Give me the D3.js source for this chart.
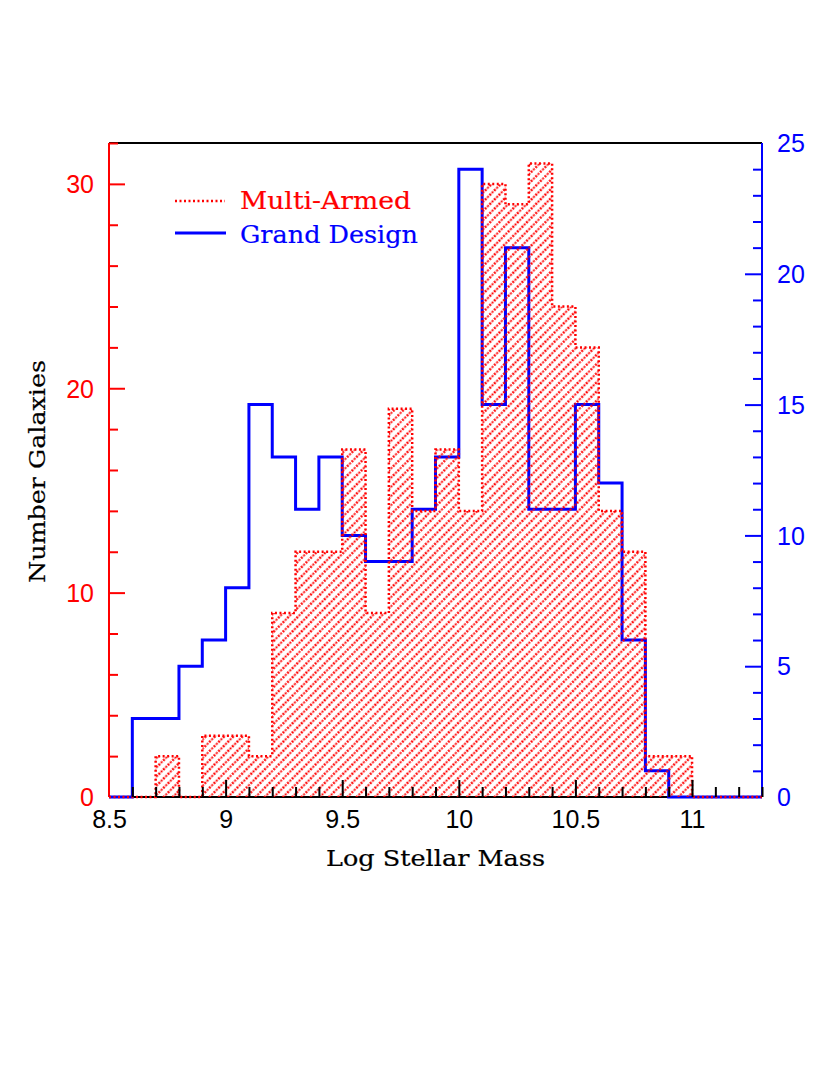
<!DOCTYPE html>
<html>
<head>
<meta charset="utf-8">
<script src="https://cdn.jsdelivr.net/npm/d3@7"></script>
<style>
  html, body { margin: 0; padding: 0; background: #fff; }
  svg { display: block; }
</style>
</head>
<body>
<svg id="chart" width="830" height="1075"></svg>
<script>
// ---- Data ----
const binEdges = [8.5, 8.6, 8.7, 8.8, 8.9, 9.0, 9.1, 9.2, 9.3, 9.4, 9.5, 9.6, 9.7, 9.8, 9.9,
                  10.0, 10.1, 10.2, 10.3, 10.4, 10.5, 10.6, 10.7, 10.8, 10.9, 11.0, 11.1, 11.2, 11.3];
const multiArmed = [0, 0, 2, 0, 3, 3, 2, 9, 12, 12, 17, 9, 19, 14, 17, 14, 30, 29, 31, 24, 22, 14, 12, 2, 2, 0, 0, 0];
const grandDesign = [0, 3, 3, 5, 6, 8, 15, 13, 11, 13, 10, 9, 9, 11, 13, 24, 15, 21, 11, 11, 15, 12, 6, 1, 0, 0, 0, 0];
const xMajorTicks = [8.5, 9, 9.5, 10, 10.5, 11];
const xTickLabels = ["8.5", "9", "9.5", "10", "10.5", "11"];
const leftMajorTicks = [0, 10, 20, 30];
const rightMajorTicks = [0, 5, 10, 15, 20, 25];
const seriesNames = ["Multi-Armed", "Grand Design"];
const xLabel = "Log Stellar Mass";
const yLabel = "Number Galaxies";

// ---- Layout ----
const L = 109, R = 762, T = 143, B = 797;
const RED = "#ff0000", BLUE = "#0000ff";
const serif = "'DejaVu Serif', 'Liberation Serif', serif";
const sans = "'Liberation Sans', Arial, sans-serif";

const x = d3.scaleLinear().domain([8.5, 11.3]).range([L, R]);
const yL = d3.scaleLinear().domain([0, 32]).range([B, T]);
const yR = d3.scaleLinear().domain([0, 25]).range([B, T]);

const svg = d3.select("#chart");
const defs = svg.append("defs");

const pat = defs.append("pattern")
  .attr("id", "hatch")
  .attr("patternUnits", "userSpaceOnUse")
  .attr("width", 6.5).attr("height", 6.5)
  .attr("patternTransform", "rotate(-45)");
pat.append("line")
  .attr("x1", 0).attr("y1", 3.25).attr("x2", 6.5).attr("y2", 3.25)
  .attr("stroke", RED).attr("stroke-width", 1.9)
  .attr("stroke-dasharray", "2.1,1.15");
pat.append("line")
  .attr("x1", 1.05).attr("y1", 2.2).attr("x2", 1.05).attr("y2", 4.3)
  .attr("stroke", RED).attr("stroke-width", 1.1);

defs.append("clipPath").attr("id", "plotclip")
  .append("rect").attr("x", L - 1).attr("y", T - 2).attr("width", R - L + 2).attr("height", B - T + 4);

function stepPoints(vals) {
  const pts = vals.map((v, i) => [binEdges[i], v]);
  pts.push([binEdges[binEdges.length - 1], vals[vals.length - 1]]);
  return pts;
}

// ---- Frame (drawn first, data over it) ----
svg.append("line").attr("x1", L).attr("x2", R).attr("y1", T).attr("y2", T)
  .attr("stroke", "#000").attr("stroke-width", 2);
svg.append("line").attr("x1", L).attr("x2", R).attr("y1", B).attr("y2", B)
  .attr("stroke", "#000").attr("stroke-width", 2);
svg.append("line").attr("x1", L).attr("x2", L).attr("y1", T).attr("y2", B)
  .attr("stroke", RED).attr("stroke-width", 2);
svg.append("line").attr("x1", R).attr("x2", R).attr("y1", T).attr("y2", B)
  .attr("stroke", BLUE).attr("stroke-width", 2);

const g = svg.append("g").attr("clip-path", "url(#plotclip)");

// Grand design (right axis)
const lineR = d3.line().x(d => x(d[0])).y(d => yR(d[1])).curve(d3.curveStepAfter);
g.append("path")
  .attr("d", lineR(stepPoints(grandDesign)))
  .attr("fill", "none").attr("stroke", BLUE).attr("stroke-width", 3)
  .attr("stroke-linejoin", "miter");

// Multi-armed (left axis) hatch fill + dotted outline
const areaL = d3.area().x(d => x(d[0])).y0(yL(0)).y1(d => yL(d[1])).curve(d3.curveStepAfter);
const lineL = d3.line().x(d => x(d[0])).y(d => yL(d[1])).curve(d3.curveStepAfter);
g.append("path")
  .attr("d", areaL(stepPoints(multiArmed)))
  .attr("fill", "url(#hatch)").attr("stroke", "none");
g.append("path")
  .attr("d", lineL(stepPoints(multiArmed)))
  .attr("fill", "none").attr("stroke", RED).attr("stroke-width", 2.5)
  .attr("stroke-dasharray", "2,2.5");

// ---- X axis ----
const xMinor = d3.range(0, 29).map(i => 8.5 + i * 0.1).filter(v => !xMajorTicks.some(m => Math.abs(m - v) < 1e-6));
svg.append("g").attr("transform", `translate(0,${B})`)
  .call(d3.axisBottom(x).tickValues(xMinor).tickSize(-10).tickFormat(""))
  .call(s => s.select(".domain").remove())
  .call(s => s.selectAll("line").attr("stroke", "#000").attr("stroke-width", 2));
svg.append("g").attr("transform", `translate(0,${B})`)
  .call(d3.axisBottom(x).tickValues(xMajorTicks).tickSize(-17)
    .tickFormat((d, i) => xTickLabels[i]).tickPadding(0))
  .call(s => s.select(".domain").remove())
  .call(s => s.selectAll("line").attr("stroke", "#000").attr("stroke-width", 2)
    .attr("display", d => d === 8.5 ? "none" : null))
  .call(s => s.selectAll("text").attr("y", 31).attr("dy", 0)
    .attr("font-family", sans).attr("font-size", 25).attr("fill", "#000"));

// ---- Left axis ----
const leftMinor = d3.range(0, 33, 2).filter(v => v % 10 !== 0);
svg.append("g").attr("transform", `translate(${L},0)`)
  .call(d3.axisLeft(yL).tickValues(leftMinor).tickSize(-9).tickFormat(""))
  .call(s => s.select(".domain").remove())
  .call(s => s.selectAll("line").attr("stroke", RED).attr("stroke-width", 2));
svg.append("g").attr("transform", `translate(${L},0)`)
  .call(d3.axisLeft(yL).tickValues(leftMajorTicks).tickSize(-16).tickFormat(d3.format("d")).tickPadding(0))
  .call(s => s.select(".domain").remove())
  .call(s => s.selectAll("line").attr("stroke", RED).attr("stroke-width", 2)
    .attr("display", d => d === 0 ? "none" : null))
  .call(s => s.selectAll("text").attr("x", -15).attr("dy", "0.35em")
    .attr("font-family", sans).attr("font-size", 25).attr("fill", RED));

// ---- Right axis ----
const rightMinor = d3.range(0, 26).filter(v => v % 5 !== 0);
svg.append("g").attr("transform", `translate(${R},0)`)
  .call(d3.axisRight(yR).tickValues(rightMinor).tickSize(-9).tickFormat(""))
  .call(s => s.select(".domain").remove())
  .call(s => s.selectAll("line").attr("stroke", BLUE).attr("stroke-width", 2));
svg.append("g").attr("transform", `translate(${R},0)`)
  .call(d3.axisRight(yR).tickValues(rightMajorTicks).tickSize(-17).tickFormat(d3.format("d")).tickPadding(0))
  .call(s => s.select(".domain").remove())
  .call(s => s.selectAll("line").attr("stroke", BLUE).attr("stroke-width", 2)
    .attr("display", d => (d === 0 || d === 25) ? "none" : null))
  .call(s => s.selectAll("text").attr("x", 15).attr("dy", "0.35em")
    .attr("font-family", sans).attr("font-size", 25).attr("fill", BLUE));

// ---- Axis labels ----
function label(sel, color) {
  return sel.attr("font-family", serif).attr("fill", color)
    .attr("stroke", color).attr("stroke-width", 0.2)
    .attr("lengthAdjust", "spacingAndGlyphs");
}
label(svg.append("text"), "#000")
  .attr("x", 326).attr("y", 866).attr("font-size", 22)
  .attr("textLength", 219).text(xLabel);
label(svg.append("text"), "#000")
  .attr("transform", "translate(45,583) rotate(-90)").attr("font-size", 22)
  .attr("textLength", 223).text(yLabel);

// ---- Legend ----
const legend = svg.append("g");
legend.append("line").attr("x1", 175).attr("x2", 225).attr("y1", 201).attr("y2", 201)
  .attr("stroke", RED).attr("stroke-width", 2.5).attr("stroke-dasharray", "2,2.5");
label(legend.append("text"), RED).attr("x", 240).attr("y", 209).attr("font-size", 24)
  .attr("textLength", 171).text(seriesNames[0]);
legend.append("line").attr("x1", 175).attr("x2", 226).attr("y1", 233).attr("y2", 233)
  .attr("stroke", BLUE).attr("stroke-width", 3);
label(legend.append("text"), BLUE).attr("x", 240).attr("y", 243).attr("font-size", 24)
  .attr("textLength", 178).text(seriesNames[1]);
</script>
</body>
</html>
